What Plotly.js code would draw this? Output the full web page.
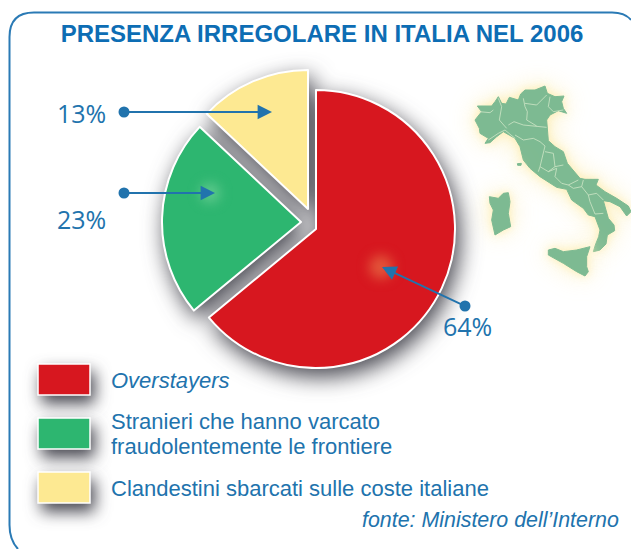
<!DOCTYPE html>
<html><head><meta charset="utf-8">
<script src="https://cdn.plot.ly/plotly-3.0.1.min.js"></script>
<style>html,body{margin:0;padding:0;background:#fff;overflow:hidden}#c{width:631px;height:549px}</style>
</head><body><div id="c"></div>
<script>
const categories=['Overstayers','Stranieri che hanno varcato<br>fraudolentemente le frontiere','Clandestini sbarcati sulle coste italiane'];
const values=[64,23,13];
const colors=['#d7171f','#2db670','#fde992'];
const titleText='PRESENZA IRREGOLARE IN ITALIA NEL 2006';
const sourceText='fonte: Ministero dell’Interno';
const blue='#2173ad';
// outline of the map (crop units: 3 per pixel, origin 440,70)
const italyMain=[[112,108],[155,108],[165,95],[175,80],[185,100],[198,102],[208,82],[235,90],[242,72],[255,60],[285,60],[315,48],[322,70],[345,80],[372,78],[365,95],[370,115],[380,130],[355,122],[330,135],[320,150],[322,185],[325,212],[345,230],[370,245],[382,280],[420,325],[435,328],[475,328],[468,345],[495,365],[530,385],[565,408],[573,425],[560,438],[540,410],[510,395],[490,392],[498,425],[505,445],[522,465],[524,482],[502,495],[498,522],[480,540],[460,545],[466,525],[476,500],[480,480],[465,440],[445,435],[430,415],[395,390],[380,358],[350,352],[300,320],[270,295],[250,270],[240,230],[225,205],[190,185],[170,200],[150,218],[135,220],[145,205],[120,190],[118,175],[105,150],[125,125],[112,108]];
const sardinia=[[148,380],[175,385],[190,370],[205,368],[210,395],[205,430],[212,470],[190,480],[165,495],[155,450],[160,420],[150,400],[148,380]];
const sicily=[[325,540],[345,535],[370,545],[410,540],[450,530],[440,560],[440,590],[445,605],[435,618],[410,605],[370,580],[340,565],[325,555],[325,540]];
const elba=[[232,281],[244,280],[243,286],[233,286],[232,281]];
const regionBorders=[
 [[118,125],[150,128],[160,120]],
 [[175,85],[185,110],[178,150],[200,175]],
 [[145,210],[175,190],[195,180],[225,205]],
 [[205,165],[222,155],[250,165],[290,168],[320,172]],
 [[225,195],[250,210],[280,205],[300,215],[315,228]],
 [[250,85],[255,110],[262,125],[260,150],[290,168]],
 [[255,100],[290,105],[320,75]],
 [[330,80],[325,110],[340,125],[370,120]],
 [[315,228],[310,250],[300,290],[295,305]],
 [[315,245],[340,250],[345,290],[325,305],[300,290]],
 [[345,290],[370,285]],
 [[325,305],[350,295],[345,320],[365,340],[385,345],[415,330]],
 [[385,345],[400,355],[425,350],[430,330]],
 [[425,350],[445,375],[470,370],[490,390]],
 [[445,375],[450,395],[465,432],[490,430]]
];
const px=p=>440+p[0]/3, py=p=>70+p[1]/3;

const W=631,H=549,R=139;
// centre of each detached sector, in chart pixels
const centers=[[316,229],[301,222],[308,209]];
const dom=(c)=>({x:[(c[0]-R)/W,(c[0]+R)/W],y:[1-(c[1]+R)/H,1-(c[1]-R)/H]});
const pies=[2,1,0].map(i=>({
  type:'pie',values:values,labels:categories,sort:false,direction:'clockwise',rotation:0,
  textinfo:'none',hoverinfo:'skip',showlegend:false,domain:dom(centers[i]),
  marker:{colors:colors.map((c,j)=>j===i?c:'rgba(0,0,0,0)'),
          line:{color:'#fff',width:values.map((v,j)=>j===i?2:0)}}
}));
const land=[italyMain,sardinia,sicily,elba].map(a=>({
  type:'scatter',mode:'lines',x:a.map(px),y:a.map(py),fill:'toself',fillcolor:'#7dba92',
  line:{color:'#7dba92',width:1},hoverinfo:'skip',showlegend:false
}));
const bx=[],by=[];
regionBorders.forEach(l=>{l.forEach(p=>{bx.push(px(p));by.push(py(p))});bx.push(null);by.push(null)});
const borders={type:'scatter',mode:'lines',x:bx,y:by,line:{color:'#cfe6c6',width:0.8},hoverinfo:'skip',showlegend:false};

const swatchY=[[364,395],[418,449],[472,503]];
const shapes=[
 {type:'path',path:'M631,20 Q625,12.5 612,12.5 L34,12.5 Q9.5,12.5 9.5,37 L9.5,525 Q9.5,540 18,549',line:{color:'#2a7ab5',width:2},xref:'x',yref:'y'},
 ...swatchY.map((s,i)=>({type:'rect',xref:'x',yref:'y',x0:38,x1:90,y0:s[0],y1:s[1],fillcolor:colors[i],line:{color:'#fff',width:1.5},layer:'above'})),
 {type:'circle',xref:'x',yref:'y',x0:369,x1:393,y0:255,y1:279,fillcolor:'#e2553a',line:{width:0},layer:'above'},
 {type:'circle',xref:'x',yref:'y',x0:200,x1:220,y0:183,y1:203,fillcolor:'#5fc98d',line:{width:0},layer:'above'},
 ...[[124,112],[124,193],[465,306]].map(c=>({type:'circle',xref:'x',yref:'y',x0:c[0]-5.5,x1:c[0]+5.5,y0:c[1]-5.5,y1:c[1]+5.5,fillcolor:blue,line:{width:0},layer:'above'}))
];
const arrow=(tx,ty,ax,ay)=>({xref:'x',yref:'y',axref:'x',ayref:'y',x:tx,y:ty,ax:ax,ay:ay,text:' ',showarrow:true,arrowhead:2,arrowsize:1.6,arrowwidth:1.8,arrowcolor:blue});
const label=(t,x,y,anchor,size,fam)=>({xref:'x',yref:'y',x:x,y:y,text:t,showarrow:false,xanchor:anchor,yanchor:'middle',align:anchor==='right'?'right':'left',font:{family:fam||'"Liberation Sans"',size:size,color:blue}});
const pctFont='"Open Sans"';
const strLines=categories[1].split('<br>');
const annotations=[
 arrow(272,112,124,112),arrow(215,193,124,193),arrow(382,267,465,306),
 label(values[2]+'%',81,113,'center',25,pctFont),
 label(values[1]+'%',81,219,'center',25,pctFont),
 label(values[0]+'%',467,326,'center',25,pctFont),
 label('<i>'+categories[0]+'</i>',109,380,'left',22),
 label(strLines[0],109,421,'left',22),
 label(strLines[1],109,446,'left',22),
 label(categories[2],109,488,'left',22),
 label('<i>'+sourceText+'</i>',621,520,'right',21.4)
];
const layout={
 width:W,height:H,margin:{l:0,r:0,t:0,b:0},paper_bgcolor:'#fff',plot_bgcolor:'#fff',showlegend:false,
 title:{text:'<b>'+titleText+'</b>',x:322/W,xanchor:'center',y:1-34/H,yanchor:'middle',font:{family:'"Liberation Sans"',size:24,color:'#0d6db4'}},
 xaxis:{visible:false,range:[0,W],fixedrange:true},
 yaxis:{visible:false,range:[H,0],fixedrange:true},
 shapes:shapes,annotations:annotations
};
Plotly.newPlot('c',[...land,borders,...pies],layout,{displayModeBar:false,staticPlot:true}).then(gd=>{
  const pl=gd.querySelector('.pielayer');
  if(pl) pl.style.filter='drop-shadow(4px 8px 11px rgba(40,40,50,.85))';
  gd.querySelectorAll('.scatterlayer .trace').forEach((t,i)=>{ if(i<4) t.style.filter='drop-shadow(0 0 5px rgba(253,236,175,.9)) drop-shadow(0 0 12px rgba(253,240,190,.8))'; });
  const sh=gd.querySelectorAll('.layer-above .shapelayer path');
  sh.forEach((p,i)=>{
    if(i>=1&&i<=3) p.style.filter='drop-shadow(4px 8px 8px rgba(40,40,50,.85))';
    if(i===4||i===5) p.style.filter='blur(6px)';
  });
});
</script></body></html>
